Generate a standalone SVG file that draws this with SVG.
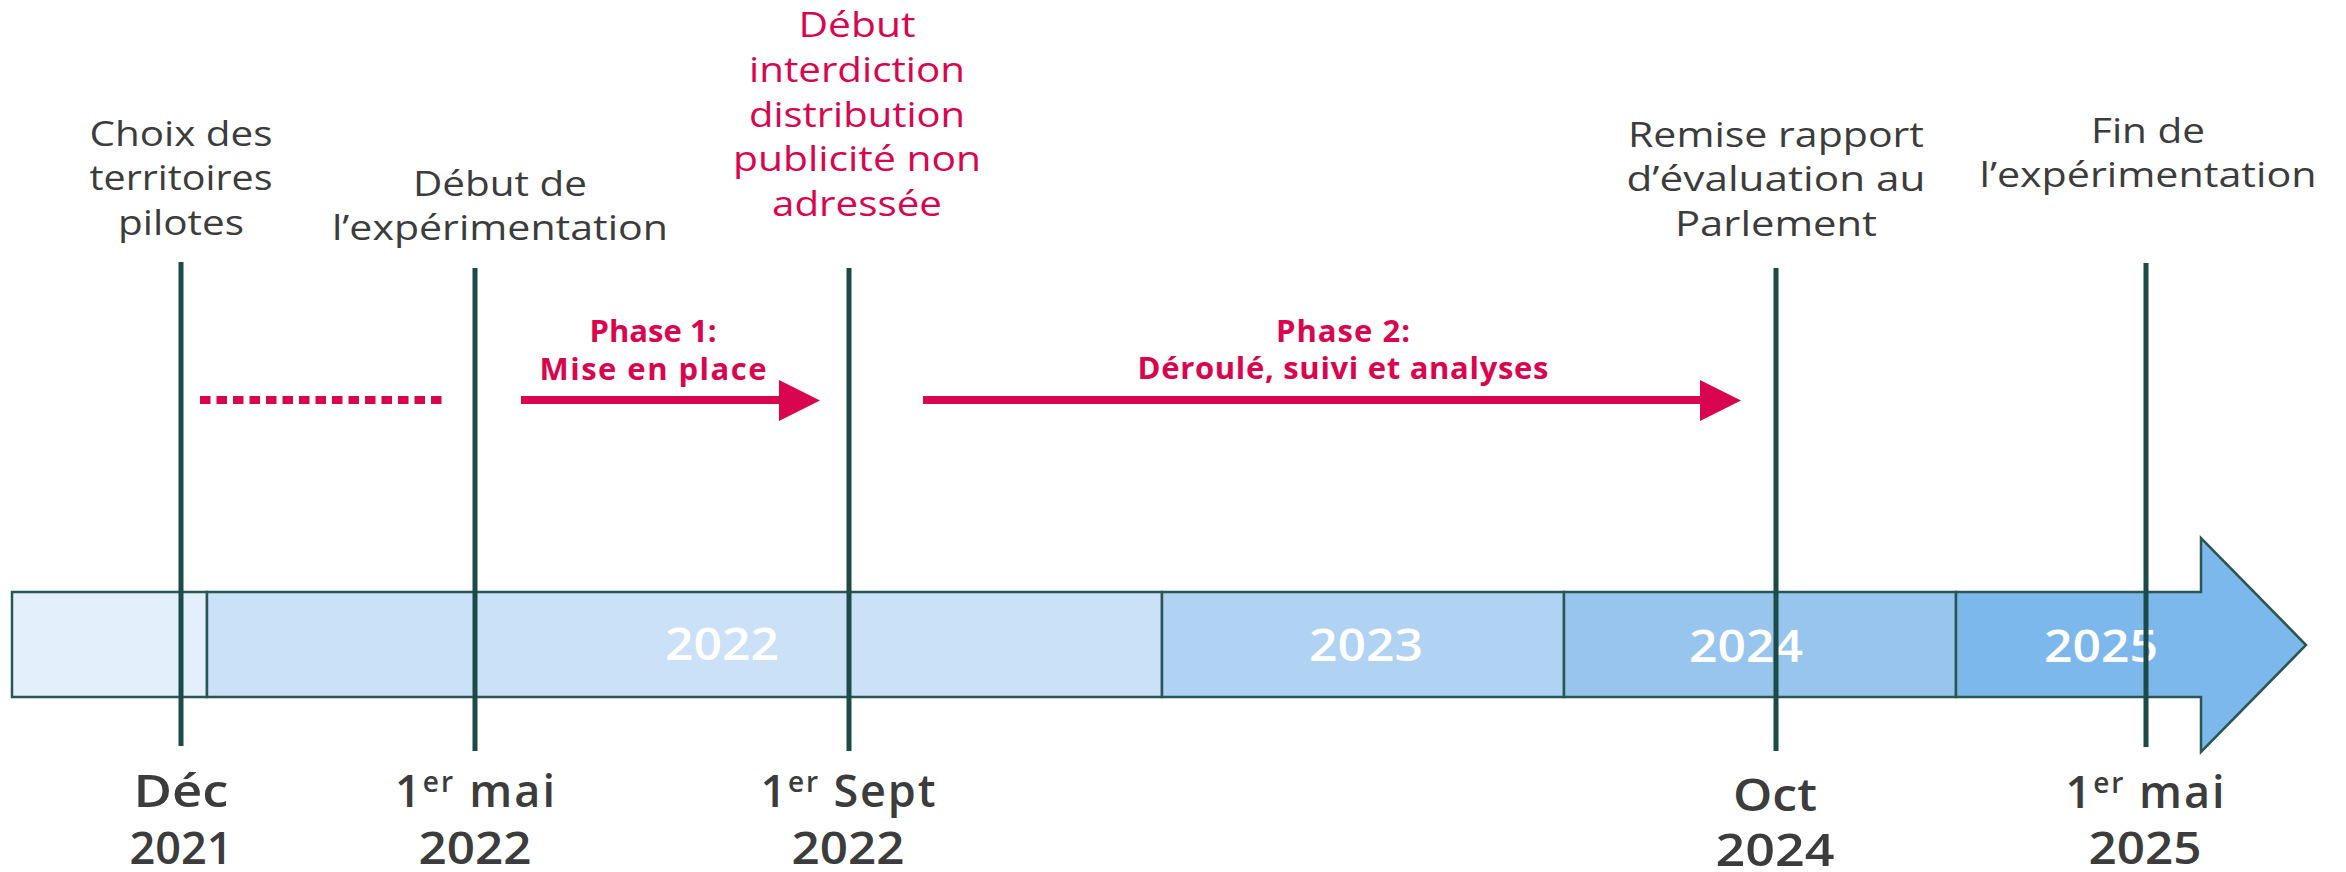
<svg xmlns="http://www.w3.org/2000/svg" width="2346" height="872" viewBox="0 0 2346 872">
<style>
.lbl{font-family:"Open Sans","Liberation Sans",sans-serif;font-size:35px;fill:#3c3c3c;text-anchor:middle}
.red{fill:#d9064f}
.ph{font-family:"Open Sans","Liberation Sans",sans-serif;font-size:31px;font-weight:700;fill:#d9064f;text-anchor:middle}
.date{font-family:"Open Sans","Liberation Sans",sans-serif;font-size:45px;font-weight:600;fill:#3c3c3c;text-anchor:middle}
.yr{font-family:"Open Sans","Liberation Sans",sans-serif;font-size:46px;font-weight:600;fill:#ffffff;text-anchor:middle}
.seg{stroke:#2a5753;stroke-width:2.5}
.vl{stroke:#1c4a46;stroke-width:5;fill:none}
.sup{font-size:28px}
</style>
<rect width="2346" height="872" fill="#ffffff"/>
<g id="bar">
<rect class="seg" x="12" y="592" width="195" height="105" fill="#e3f0fc"/>
<rect class="seg" x="207" y="592" width="955" height="105" fill="#cae1f7"/>
<rect class="seg" x="1162" y="592" width="402" height="105" fill="#b0d3f4"/>
<rect class="seg" x="1564" y="592" width="392" height="105" fill="#97c5ee"/>
<polygon class="seg" points="1956,592 2201,592 2201,538 2306,645 2201,752 2201,697 1956,697" fill="#7db8ec"/>
<text class="yr" x="722" y="660" textLength="114" lengthAdjust="spacingAndGlyphs">2022</text>
<text class="yr" x="1366" y="661" textLength="114" lengthAdjust="spacingAndGlyphs">2023</text>
<text class="yr" x="1746" y="662" textLength="114" lengthAdjust="spacingAndGlyphs">2024</text>
<text class="yr" x="2101" y="662" textLength="114" lengthAdjust="spacingAndGlyphs">2025</text>
</g>
<g id="connectors">
<line class="vl" x1="181" y1="262" x2="181" y2="746"/>
<line class="vl" x1="475" y1="268" x2="475" y2="751"/>
<line class="vl" x1="849" y1="268" x2="849" y2="751"/>
<line class="vl" x1="1776" y1="268" x2="1776" y2="751"/>
<line class="vl" x1="2146" y1="263" x2="2146" y2="747"/>
<line x1="200" y1="400" x2="442" y2="400" stroke="#d9064f" stroke-width="8" stroke-dasharray="10.5 6"/>
<line x1="521" y1="400" x2="781" y2="400" stroke="#d9064f" stroke-width="8"/>
<polygon points="779,380 820,400.5 779,421" fill="#d9064f"/>
<line x1="923" y1="400" x2="1702" y2="400" stroke="#d9064f" stroke-width="8"/>
<polygon points="1700,380 1741,400.5 1700,421" fill="#d9064f"/>
</g>
<g id="n-choix">
<text class="lbl" x="181" y="146" textLength="183" lengthAdjust="spacingAndGlyphs">Choix des</text>
<text class="lbl" x="181" y="190" textLength="183" lengthAdjust="spacingAndGlyphs">territoires</text>
<text class="lbl" x="181" y="235" textLength="126" lengthAdjust="spacingAndGlyphs">pilotes</text>
<text class="date" x="181" y="807" textLength="95" lengthAdjust="spacingAndGlyphs">Déc</text>
<text class="date" x="181" y="864" textLength="103" lengthAdjust="spacingAndGlyphs">2021</text>
</g>
<g id="n-debut">
<text class="lbl" x="500" y="196" textLength="174" lengthAdjust="spacingAndGlyphs">Début de</text>
<text class="lbl" x="500" y="240" textLength="336" lengthAdjust="spacingAndGlyphs">l’expérimentation</text>
<text class="date" x="475" y="807" textLength="160">1<tspan class="sup" dy="-15">er</tspan><tspan dy="15"> mai</tspan></text>
<text class="date" x="475" y="864" textLength="113" lengthAdjust="spacingAndGlyphs">2022</text>
</g>
<g id="n-phase1">
<text class="ph" x="653" y="342" textLength="127">Phase 1:</text>
<text class="ph" x="653" y="380" textLength="227">Mise en place</text>
</g>
<g id="n-interdiction">
<text class="lbl red" x="857" y="37" textLength="117" lengthAdjust="spacingAndGlyphs">Début</text>
<text class="lbl red" x="857" y="82" textLength="216" lengthAdjust="spacingAndGlyphs">interdiction</text>
<text class="lbl red" x="857" y="127" textLength="216" lengthAdjust="spacingAndGlyphs">distribution</text>
<text class="lbl red" x="857" y="171" textLength="248" lengthAdjust="spacingAndGlyphs">publicité non</text>
<text class="lbl red" x="857" y="216" textLength="170" lengthAdjust="spacingAndGlyphs">adressée</text>
<text class="date red" x="848" y="807" textLength="175">1<tspan class="sup" dy="-15">er</tspan><tspan dy="15"> Sept</tspan></text>
<text class="date red" x="848" y="864" textLength="113" lengthAdjust="spacingAndGlyphs">2022</text>
</g>
<g id="n-phase2">
<text class="ph" x="1343" y="342" textLength="134">Phase 2:</text>
<text class="ph" x="1343" y="379" textLength="411">Déroulé, suivi et analyses</text>
</g>
<g id="n-rapport">
<text class="lbl" x="1776" y="147" textLength="296" lengthAdjust="spacingAndGlyphs">Remise rapport</text>
<text class="lbl" x="1776" y="191" textLength="299" lengthAdjust="spacingAndGlyphs">d’évaluation au</text>
<text class="lbl" x="1776" y="236" textLength="202" lengthAdjust="spacingAndGlyphs">Parlement</text>
<text class="date" x="1775" y="811" textLength="84" lengthAdjust="spacingAndGlyphs">Oct</text>
<text class="date" x="1775" y="866" textLength="119" lengthAdjust="spacingAndGlyphs">2024</text>
</g>
<g id="n-fin">
<text class="lbl" x="2148" y="143" textLength="114" lengthAdjust="spacingAndGlyphs">Fin de</text>
<text class="lbl" x="2148" y="187" textLength="337" lengthAdjust="spacingAndGlyphs">l’expérimentation</text>
<text class="date" x="2145" y="808" textLength="159">1<tspan class="sup" dy="-15">er</tspan><tspan dy="15"> mai</tspan></text>
<text class="date" x="2145" y="864" textLength="113" lengthAdjust="spacingAndGlyphs">2025</text>
</g>
</svg>
